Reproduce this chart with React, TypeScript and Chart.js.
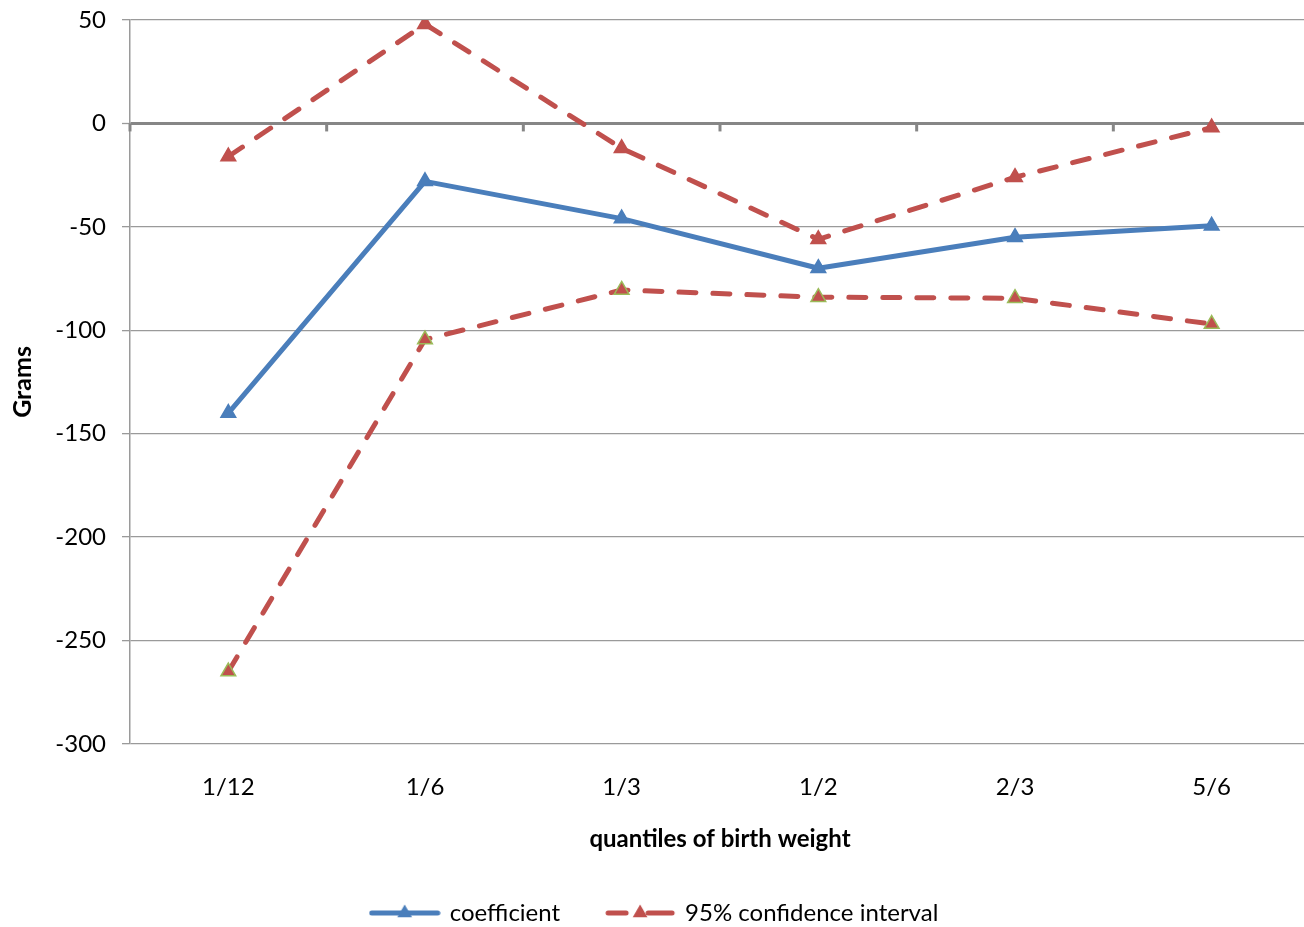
import React, { useEffect, useRef } from "react";
import { Chart, registerables } from "chart.js";

Chart.register(...registerables);

const categories = ["1/12", "1/6", "1/3", "1/2", "2/3", "5/6"];
const coefficient = [-140, -28, -46, -70, -55, -49.5];
const ciUpper = [-16, 48, -12, -56, -26, -2];
const ciLower = [-265, -104.5, -80.5, -84, -84.5, -97];
const yMin = -300;
const yMax = 50;
const yStep = 50;

const seriesNames = ["coefficient", "95% confidence interval", "95% confidence interval"];

const BLUE = "#4A7EBB";
const RED = "#C0504D";
const GREEN = "#9BBB59";
const GRID = "#9A9A9A";
const AXIS = "#868686";
const FONT = "Lato, 'Open Sans', sans-serif";

function makeLegendImage(kind: "solid" | "dash", color: string): HTMLCanvasElement {
  const c = document.createElement("canvas");
  c.width = 72;
  c.height = 18;
  const g = c.getContext("2d")!;
  g.strokeStyle = color;
  g.fillStyle = color;
  g.lineWidth = 5;
  g.lineCap = "round";
  const cy = 9;
  const cx = 36;
  g.beginPath();
  if (kind === "solid") {
    g.moveTo(3, cy);
    g.lineTo(69, cy);
  } else {
    g.moveTo(4, cy);
    g.lineTo(22, cy);
    g.moveTo(44, cy);
    g.lineTo(68, cy);
  }
  g.stroke();
  const r = 8.5;
  g.beginPath();
  g.moveTo(cx, cy - r);
  g.lineTo(cx + r * Math.sin((2 * Math.PI) / 3), cy - r * Math.cos((2 * Math.PI) / 3));
  g.lineTo(cx + r * Math.sin((4 * Math.PI) / 3), cy - r * Math.cos((4 * Math.PI) / 3));
  g.closePath();
  g.fill();
  return c;
}

const categoryTicks = {
  id: "categoryTicks",
  beforeDatasetsDraw(chart: any) {
    const xs = chart.scales.x;
    const ys = chart.scales.y;
    const y0 = ys.getPixelForValue(0);
    const ctx = chart.ctx;
    ctx.save();
    ctx.strokeStyle = AXIS;
    ctx.lineWidth = 3;
    for (let i = 0; i <= categories.length; i++) {
      const px = xs.getPixelForValue(i - 0.5);
      ctx.beginPath();
      ctx.moveTo(px, y0);
      ctx.lineTo(px, y0 + 8);
      ctx.stroke();
    }
    ctx.restore();
  },
};

export default function App() {
  const ref = useRef<HTMLCanvasElement | null>(null);

  useEffect(() => {
    const canvas = ref.current;
    if (!canvas) return;
    const legendImgs = [makeLegendImage("solid", BLUE), makeLegendImage("dash", RED)];
    const lineCommon = {
      borderWidth: 5,
      pointStyle: "triangle" as const,
      pointRadius: 8.5,
      pointHoverRadius: 8.5,
      pointBorderWidth: 1.5,
      tension: 0,
      borderCapStyle: "round" as const,
      borderJoinStyle: "round" as const,
      fill: false,
    };
    const chart = new Chart(canvas, {
      type: "line",
      data: {
        labels: categories,
        datasets: [
          {
            ...lineCommon,
            label: seriesNames[0],
            data: coefficient,
            borderColor: BLUE,
            backgroundColor: BLUE,
            pointBackgroundColor: BLUE,
            pointBorderColor: BLUE,
          },
          {
            ...lineCommon,
            label: seriesNames[1],
            data: ciUpper,
            borderColor: RED,
            backgroundColor: RED,
            borderDash: [17, 17],
            pointBackgroundColor: RED,
            pointBorderColor: RED,
          },
          {
            ...lineCommon,
            label: seriesNames[2],
            data: ciLower,
            borderColor: RED,
            backgroundColor: RED,
            borderDash: [17, 17],
            pointBackgroundColor: RED,
            pointBorderColor: GREEN,
          },
        ],
      },
      options: {
        animation: false,
        responsive: false,
        devicePixelRatio: 1,
        layout: { autoPadding: false, padding: { top: 20, right: 1, bottom: 0, left: 0 } },
        plugins: {
          tooltip: { enabled: false },
          legend: {
            position: "bottom",
            labels: {
              usePointStyle: true,
              pointStyleWidth: 66,
              padding: 47,
              color: "#000",
              font: { family: FONT, size: 24 },
              generateLabels: (ch: any) => {
                const items = (Chart.defaults.plugins.legend.labels as any).generateLabels(ch);
                return items
                  .filter((it: any) => it.datasetIndex !== 2)
                  .map((it: any) => ({ ...it, pointStyle: legendImgs[it.datasetIndex], rotation: 0 }));
              },
            },
          },
        },
        scales: {
          x: {
            offset: true,
            grid: { display: false, drawTicks: false },
            border: { display: false },
            ticks: {
              color: "#000",
              font: { family: FONT, size: 24 },
              padding: 29,
              maxRotation: 0,
            },
            title: {
              display: true,
              text: "quantiles of birth weight",
              color: "#000",
              font: { family: FONT, size: 24, weight: "bold" },
              padding: { top: 0, bottom: 0 },
            },
            afterFit: (s: any) => {
              s.height = 110;
            },
          },
          y: {
            min: yMin,
            max: yMax,
            ticks: {
              stepSize: yStep,
              color: "#000",
              font: { family: FONT, size: 24 },
              padding: 16,
            },
            grid: {
              color: (c: any) => (c.tick && c.tick.value === 0 ? AXIS : GRID),
              lineWidth: (c: any) => (c.tick && c.tick.value === 0 ? 3 : 1.3),
              tickLength: 8,
              tickColor: GRID,
              tickWidth: 1.3,
            },
            border: { display: true, color: GRID, width: 1.5 },
            title: {
              display: true,
              text: "Grams",
              color: "#000",
              font: { family: FONT, size: 25, weight: "bold" },
              padding: { top: 8, bottom: 0 },
            },
            afterFit: (s: any) => {
              s.width = 130;
              s.paddingTop = 0;
              s.paddingBottom = 0;
            },
          },
        },
      },
      plugins: [categoryTicks],
    });
    return () => chart.destroy();
  }, []);

  return (
    <div
      style={{
        position: "fixed",
        left: 0,
        top: 0,
        width: 1304,
        height: 927,
        overflow: "hidden",
        background: "#fff",
      }}
    >
      <canvas ref={ref} width={1311} height={935} style={{ display: "block" }} />
    </div>
  );
}
